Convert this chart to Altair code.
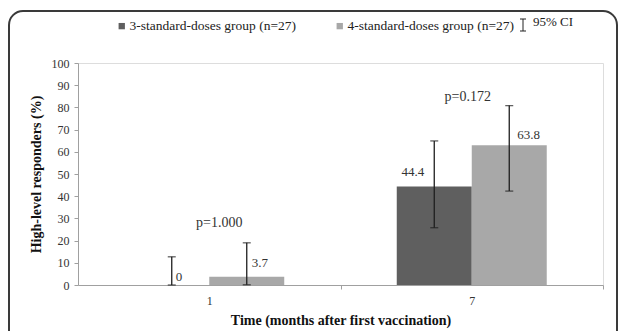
import altair as alt
import pandas as pd

# ---- data ----
times = ["1", "1", "7", "7"]
group_names = ["3-standard-doses group (n=27)", "4-standard-doses group (n=27)"]
groups = [group_names[0], group_names[1], group_names[0], group_names[1]]
values = [0.0, 3.7, 44.4, 63.0]
value_labels = ["0", "3.7", "44.4", "63.8"]
ci_low = [0.0, 0.1, 25.8, 42.3]
ci_high = [12.7, 19.0, 64.9, 80.8]
p_times = ["1", "7"]
p_texts = ["p=1.000", "p=0.172"]
p_levels = [28.0, 84.7]
y_ticks = [0, 10, 20, 30, 40, 50, 60, 70, 80, 90, 100]
colors = ["#5f5f5f", "#a8a8a8"]

df = pd.DataFrame({
    "time": times, "group": groups, "value": values,
    "label": value_labels, "lo": ci_low, "hi": ci_high,
})

SERIF = "'Liberation Serif', 'Times New Roman', Times, serif"

xaxis = alt.Axis(
    title="Time (months after first vaccination)",
    labelAngle=0, tickSize=4, labelPadding=6,
    tickOffset=131.25, labelOffset=-131.25,
    domainColor="#a0a0a0", tickColor="#a0a0a0",
    labelFont=SERIF, labelFontSize=12, labelColor="#333333",
    titleFont=SERIF, titleFontSize=14, titleFontWeight="bold",
    titleColor="#111111", titlePadding=7,
)
xscale = alt.Scale(paddingInner=0.4286, paddingOuter=0.2143)
yaxis = alt.Axis(
    title="High-level responders (%)", values=y_ticks, labelOverlap=False,
    grid=False, tickSize=4, labelPadding=5,
    domainColor="#a0a0a0", tickColor="#a0a0a0",
    labelFont=SERIF, labelFontSize=12, labelColor="#333333",
    titleFont=SERIF, titleFontSize=14, titleFontWeight="bold",
    titleColor="#111111", titlePadding=8,
)
yscale = alt.Scale(domain=[0, 100])

xenc = alt.X("time:N", scale=xscale, axis=xaxis)
xoff = alt.XOffset("group:N", scale=alt.Scale(domain=group_names, paddingInner=0, paddingOuter=0))

base = alt.Chart(df).encode(x=xenc, xOffset=xoff)

bars = base.mark_bar().encode(
    y=alt.Y("value:Q", scale=yscale, axis=yaxis),
    color=alt.Color(
        "group:N",
        scale=alt.Scale(domain=group_names, range=colors),
        legend=alt.Legend(
            orient="none", legendX=37, legendY=-44, direction="horizontal",
            title=None, symbolType="square", symbolSize=40, symbolStrokeWidth=0,
            labelFont=SERIF, labelFontSize=13.5, labelColor="#222222", labelLimit=0,
            columnPadding=36, labelOffset=1, padding=0,
        ),
    ),
)

err = base.mark_rule(color="#1e1e1e", strokeWidth=1.3).encode(
    y=alt.Y("lo:Q", scale=yscale, axis=yaxis), y2="hi:Q")
cap_hi = base.mark_tick(color="#1e1e1e", size=8, thickness=1.3, orient="horizontal").encode(
    y=alt.Y("hi:Q", scale=yscale, axis=yaxis))
cap_lo = base.mark_tick(color="#1e1e1e", size=8, thickness=1.3, orient="horizontal").encode(
    y=alt.Y("lo:Q", scale=yscale, axis=yaxis))

label_layers = []
offsets = {"0": (4, -8, "left"), "3.7": (5, -14, "left"), "44.4": (-10, -14, "right"), "63.8": (8, -10, "left")}
for lab in value_labels:
    dx, dy, al = offsets[lab]
    label_layers.append(
        base.transform_filter(alt.datum.label == lab)
        .mark_text(font=SERIF, fontSize=13, fill="#333333", dx=dx, dy=dy, align=al)
        .encode(y=alt.Y("value:Q", scale=yscale, axis=yaxis), text="label:N")
    )

p_layers = []
p_dx = [10, -4]
for t, txt, lvl, d in zip(p_times, p_texts, p_levels, p_dx):
    p_layers.append(
        alt.Chart(pd.DataFrame({"time": [t], "txt": [txt]}))
        .mark_text(font=SERIF, fontSize=14, color="#333333", dx=d)
        .encode(x=alt.X("time:N", scale=xscale, axis=xaxis),
                y=alt.datum(lvl, scale=yscale, axis=yaxis), text="txt:N")
    )

dummy = pd.DataFrame({"k": [0]})
frame = alt.Chart(dummy).mark_rect(
    fill="transparent", stroke="#3a3a3a", strokeWidth=2, cornerRadius=14
).encode(x=alt.value(-69), x2=alt.value(539), y=alt.value(-52), y2=alt.value(300))

ci_line = alt.Chart(dummy).mark_rule(color="#222222", strokeWidth=1).encode(
    x=alt.value(445), y=alt.value(-44), y2=alt.value(-32))
ci_cap1 = alt.Chart(dummy).mark_rule(color="#222222", strokeWidth=1).encode(
    x=alt.value(442), x2=alt.value(448), y=alt.value(-44))
ci_cap2 = alt.Chart(dummy).mark_rule(color="#222222", strokeWidth=1).encode(
    x=alt.value(442), x2=alt.value(448), y=alt.value(-32))
ci_text = alt.Chart(dummy).mark_text(
    text="95% CI", font=SERIF, fontSize=13, color="#222222", align="left", baseline="middle"
).encode(x=alt.value(455), y=alt.value(-41))

chart = alt.layer(
    frame, bars, err, cap_hi, cap_lo, *label_layers, *p_layers,
    ci_line, ci_cap1, ci_cap2, ci_text,
).properties(
    width=525, height=222,
    padding={"left": 70, "top": 55, "right": 16, "bottom": 46},
    autosize=alt.AutoSizeParams(type="none"),
).configure_view(stroke=None).configure(background="white", font=SERIF)

chart.save("out.html", embed_options={"renderer": "svg", "actions": False})
